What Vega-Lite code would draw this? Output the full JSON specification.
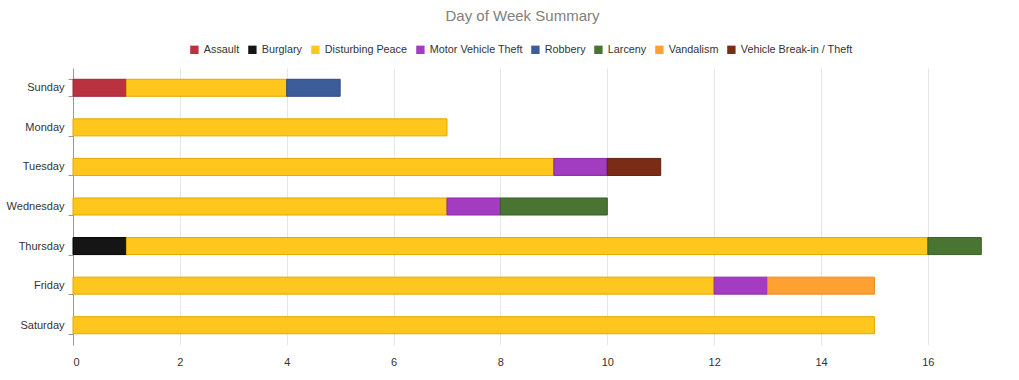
{
  "$schema": "https://vega.github.io/schema/vega-lite/v6.json",
  "width": 935,
  "height": 277,
  "autosize": {"type": "none"},
  "padding": {"left": 73, "top": 68, "right": 11, "bottom": 35},
  "background": "white",
  "config": {
    "font": "Liberation Sans",
    "view": {"stroke": null}
  },
  "title": {
    "text": "Day of Week Summary",
    "fontSize": 15,
    "fontWeight": "normal",
    "color": "#808080",
    "anchor": "middle",
    "dx": -18,
    "offset": 20
  },
  "data": {
    "values": [
      {"day": "Sunday", "type": "Assault", "count": 1, "ord": 0},
      {"day": "Sunday", "type": "Disturbing Peace", "count": 3, "ord": 2},
      {"day": "Sunday", "type": "Robbery", "count": 1, "ord": 4},
      {"day": "Monday", "type": "Disturbing Peace", "count": 7, "ord": 2},
      {"day": "Tuesday", "type": "Disturbing Peace", "count": 9, "ord": 2},
      {"day": "Tuesday", "type": "Motor Vehicle Theft", "count": 1, "ord": 3},
      {"day": "Tuesday", "type": "Vehicle Break-in / Theft", "count": 1, "ord": 7},
      {"day": "Wednesday", "type": "Disturbing Peace", "count": 7, "ord": 2},
      {"day": "Wednesday", "type": "Motor Vehicle Theft", "count": 1, "ord": 3},
      {"day": "Wednesday", "type": "Larceny", "count": 2, "ord": 5},
      {"day": "Thursday", "type": "Burglary", "count": 1, "ord": 1},
      {"day": "Thursday", "type": "Disturbing Peace", "count": 15, "ord": 2},
      {"day": "Thursday", "type": "Larceny", "count": 1, "ord": 5},
      {"day": "Friday", "type": "Disturbing Peace", "count": 12, "ord": 2},
      {"day": "Friday", "type": "Motor Vehicle Theft", "count": 1, "ord": 3},
      {"day": "Friday", "type": "Vandalism", "count": 2, "ord": 6},
      {"day": "Saturday", "type": "Disturbing Peace", "count": 15, "ord": 2}
    ]
  },
  "mark": {"type": "bar", "strokeWidth": 1},
  "encoding": {
    "y": {
      "field": "day",
      "type": "nominal",
      "sort": ["Sunday", "Monday", "Tuesday", "Wednesday", "Thursday", "Friday", "Saturday"],
      "scale": {"paddingInner": 0.57, "paddingOuter": 0.285},
      "axis": {
        "title": null,
        "tickBand": "extent",
        "grid": false,
        "domainColor": "#999999",
        "tickColor": "#999999",
        "tickSize": 5,
        "labelFontSize": 11,
        "labelColor": "#333333",
        "labelPadding": 4
      }
    },
    "x": {
      "field": "count",
      "type": "quantitative",
      "stack": "zero",
      "scale": {"domain": [0, 17.5], "nice": false},
      "axis": {
        "title": null,
        "values": [0, 2, 4, 6, 8, 10, 12, 14, 16],
        "domain": false,
        "ticks": false,
        "gridColor": "#e6e6e6",
        "labelFontSize": 11,
        "labelColor": "#333333",
        "labelPadding": 11
      }
    },
    "color": {
      "field": "type",
      "type": "nominal",
      "scale": {
        "domain": ["Assault", "Burglary", "Disturbing Peace", "Motor Vehicle Theft", "Robbery", "Larceny", "Vandalism", "Vehicle Break-in / Theft"],
        "range": ["#b8323f", "#151515", "#ffc61e", "#a33cc0", "#3c5c9a", "#4a7432", "#ffa033", "#7a2c16"]
      },
      "legend": {
        "title": null,
        "orient": "none",
        "legendX": 116,
        "legendY": -24,
        "direction": "horizontal",
        "columns": 8,
        "symbolType": "square",
        "symbolSize": 70,
        "symbolStrokeWidth": 0,
        "labelFontSize": 10.8,
        "labelColor": "#333333",
        "labelFont": "Liberation Sans",
        "columnPadding": 7,
        "labelOffset": 4
      }
    },
    "stroke": {
      "field": "type",
      "type": "nominal",
      "scale": {
        "domain": ["Assault", "Burglary", "Disturbing Peace", "Motor Vehicle Theft", "Robbery", "Larceny", "Vandalism", "Vehicle Break-in / Theft"],
        "range": ["#9a2a35", "#000000", "#e0a800", "#8a2aa6", "#2f4a80", "#3a5e26", "#e88a20", "#5e200e"]
      },
      "legend": null
    },
    "order": {"field": "ord", "type": "quantitative"}
  }
}
